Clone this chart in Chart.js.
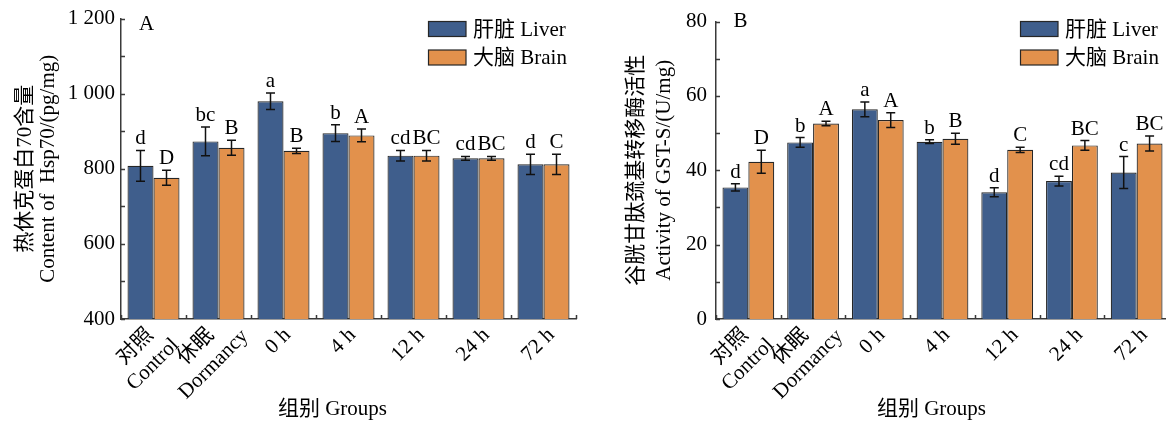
<!DOCTYPE html>
<html>
<head>
<meta charset="utf-8">
<script src="https://cdn.jsdelivr.net/npm/chart.js@4/dist/chart.umd.min.js"></script>
<style>
html,body{margin:0;padding:0;background:#fff;overflow:hidden;width:1166px;height:423px;}
#wrapA{position:absolute;left:0;top:0;width:600px;height:423px;}
#wrapB{position:absolute;left:600px;top:0;width:600px;height:423px;}
</style>
</head>
<body>
<div id="wrapA"><canvas id="cA" width="600" height="423"></canvas></div>
<div id="wrapB"><canvas id="cB" width="600" height="423"></canvas></div>
<script>
// ---- data ----
const groups = [['对照', 'Control'], ['休眠', 'Dormancy'], '0 h', '4 h', '12 h', '24 h', '72 h'];
const seriesNames = ['肝脏 Liver', '大脑 Brain'];

const hspLiver    = [808, 873, 980, 895, 835, 828, 812];
const hspLiverErr = [41, 38, 22, 22, 14, 5, 27];
const hspLiverSig = ['d', 'bc', 'a', 'b', 'cd', 'cd', 'd'];
const hspBrain    = [776, 856, 848, 889, 835, 828, 812];
const hspBrainErr = [20, 20, 7, 17, 14, 5, 27];
const hspBrainSig = ['D', 'B', 'B', 'A', 'BC', 'BC', 'C'];

const gstLiver    = [35.4, 47.5, 56.4, 47.7, 34.1, 37.1, 39.4];
const gstLiverErr = [1.0, 1.3, 2.0, 0.5, 1.2, 1.3, 4.3];
const gstLiverSig = ['d', 'b', 'a', 'b', 'd', 'cd', 'c'];
const gstBrain    = [42.3, 52.6, 53.5, 48.5, 45.5, 46.7, 47.2];
const gstBrainErr = [3.1, 0.6, 2.0, 1.5, 0.7, 1.3, 2.0];
const gstBrainSig = ['D', 'A', 'A', 'B', 'C', 'BC', 'BC'];

const hspTitle = ['热休克蛋白70含量', 'Content of  Hsp70/(pg/mg)'];
const gstTitle = ['谷胱甘肽巯基转移酶活性', 'Activity of GST-S/(U/mg)'];
const xTitle = '组别 Groups';

// ---- style ----
const FONT = "'Liberation Serif', 'Noto Sans CJK SC', serif";
const BLUE = '#3f5e8c';
const ORANGE = '#e2914c';
const EDGE = '#262626';
const AXIS = '#3a3a3a';

const decor = {
  id: 'decor',
  afterDatasetsDraw(chart, args, o) {
    const ctx = chart.ctx, ys = chart.scales.y;
    ctx.save();
    chart.data.datasets.forEach((ds, di) => {
      const meta = chart.getDatasetMeta(di);
      meta.data.forEach((bar, i) => {
        const v = ds.data[i], e = ds.errors[i];
        const yt = ys.getPixelForValue(v + e), yb = ys.getPixelForValue(v - e);
        const cx = bar.x;
        ctx.strokeStyle = '#111';
        ctx.lineWidth = 1.5;
        ctx.beginPath();
        ctx.moveTo(cx, yt); ctx.lineTo(cx, yb);
        ctx.moveTo(cx - 4.5, yt); ctx.lineTo(cx + 4.5, yt);
        ctx.moveTo(cx - 4.5, yb); ctx.lineTo(cx + 4.5, yb);
        ctx.stroke();
        ctx.fillStyle = '#000';
        ctx.font = '21px ' + FONT;
        ctx.textAlign = 'center';
        ctx.textBaseline = 'alphabetic';
        ctx.fillText(ds.sig[i], cx, yt - 6);
      });
    });
    ctx.restore();
  },
  afterDraw(chart, args, o) {
    const ctx = chart.ctx, xs = chart.scales.x, ys = chart.scales.y, ca = chart.chartArea;
    ctx.save();
    ctx.strokeStyle = AXIS;
    ctx.lineWidth = 1.5;
    ctx.beginPath();
    // inward y ticks (major + minor)
    for (let v = ys.min; v <= ys.max + 1e-9; v += o.minorStep) {
      const py = Math.round(ys.getPixelForValue(v)) + 0.5;
      ctx.moveTo(ca.left, py); ctx.lineTo(ca.left + 4, py);
    }
    // inward x ticks at group boundaries
    const labels = chart.data.labels;
    const n = labels.length;
    for (let i = 0; i <= n; i++) {
      const px = Math.round(xs.getPixelForValue(i - 0.5)) + 0.5;
      ctx.moveTo(px, ca.bottom); ctx.lineTo(px, ca.bottom - 4);
    }
    ctx.stroke();

    ctx.fillStyle = '#000';
    ctx.font = '21px ' + FONT;

    // rotated category labels: block of centred lines, bbox top-centred under the tick
    const c = Math.SQRT1_2, lh = 25, gh = 15;
    labels.forEach((lab, i) => {
      const lines = Array.isArray(lab) ? lab : [lab];
      const m = lines.length;
      const ws = lines.map(t => ctx.measureText(t).width);
      let minX = Infinity, maxX = -Infinity, minY = Infinity;
      lines.forEach((t, k) => {
        const yk = (k - (m - 1) / 2) * lh;
        [[-ws[k] / 2, yk - gh / 2], [ws[k] / 2, yk - gh / 2], [-ws[k] / 2, yk + gh / 2], [ws[k] / 2, yk + gh / 2]]
          .forEach(([lx, ly]) => {
            const gx = c * lx + c * ly, gy = -c * lx + c * ly;
            minX = Math.min(minX, gx); maxX = Math.max(maxX, gx); minY = Math.min(minY, gy);
          });
      });
      const cx = xs.getPixelForValue(i) + o.lblDx - (minX + maxX) / 2;
      const cy = ca.bottom + o.lblTop - minY;
      ctx.save();
      ctx.translate(cx, cy);
      ctx.rotate(-Math.PI / 4);
      ctx.textAlign = 'center';
      ctx.textBaseline = 'middle';
      lines.forEach((t, k) => ctx.fillText(t, 0, (k - (m - 1) / 2) * lh + 1));
      ctx.restore();
    });

    // x-axis title
    ctx.textAlign = 'center';
    ctx.textBaseline = 'middle';
    ctx.fillText(o.xTitle, (ca.left + ca.right) / 2 + o.xTitleDx, 409);

    // panel letter
    ctx.textBaseline = 'alphabetic';
    ctx.fillText(o.panel, ca.left + o.panelDx, o.panelY);

    // legend
    chart.data.datasets.forEach((ds, di) => {
      const cy = o.legendY[di];
      ctx.fillStyle = ds.backgroundColor;
      ctx.fillRect(o.legendX, cy - 7.5, 38, 15);
      ctx.strokeStyle = EDGE;
      ctx.lineWidth = 1.2;
      ctx.strokeRect(o.legendX + 0.5, cy - 7.5, 37.5, 15);
      ctx.fillStyle = '#000';
      ctx.textAlign = 'left';
      ctx.textBaseline = 'middle';
      ctx.fillText(ds.label, o.legendX + 45, cy + 1);
    });
    ctx.restore();
  }
};

function makeChart(id, cfg) {
  const datasets = [
    { label: seriesNames[0], data: cfg.liver, errors: cfg.liverErr, sig: cfg.liverSig,
      backgroundColor: BLUE, borderColor: EDGE, borderWidth: 1.2 },
    { label: seriesNames[1], data: cfg.brain, errors: cfg.brainErr, sig: cfg.brainSig,
      backgroundColor: ORANGE, borderColor: EDGE, borderWidth: 1.2 }
  ];
  return new Chart(document.getElementById(id), {
    type: 'bar',
    data: { labels: groups, datasets },
    plugins: [decor],
    options: {
      responsive: false,
      animation: false,
      devicePixelRatio: 1,
      layout: { padding: { top: 16, right: cfg.padRight, bottom: 0, left: 0 } },
      datasets: { bar: { categoryPercentage: 0.8, barPercentage: 1.0 } },
      plugins: {
        legend: { display: false },
        tooltip: { enabled: false },
        decor: { minorStep: cfg.minorStep, panel: cfg.panel, panelDx: cfg.panelDx, panelY: cfg.panelY,
                 legendX: cfg.legendX, legendY: [29, 57.5], lblDx: -6, lblTop: 7,
                 xTitle: xTitle, xTitleDx: cfg.xTitleDx }
      },
      scales: {
        x: {
          grid: { display: false, drawTicks: false },
          border: { display: true, color: AXIS, width: 1.5 },
          ticks: { display: false },
          afterFit(s) { s.height = 104; }
        },
        y: {
          min: cfg.min, max: cfg.max,
          grid: { display: false, drawTicks: false },
          border: { display: true, color: AXIS, width: 1.5 },
          ticks: {
            stepSize: cfg.step, color: '#000', padding: cfg.tickPad,
            font: { family: FONT, size: 21 },
            callback: (v) => String(v).replace(/\B(?=(\d{3})+(?!\d))/g, ' ')
          },
          title: { display: true, text: cfg.yTitle, color: '#000',
                   font: { family: FONT, size: 21, lineHeight: cfg.yLine + 'px' },
                   padding: { top: cfg.yTitlePad, bottom: 0 } },
          afterFit(s) { s.width = cfg.yWidth; }
        }
      }
    }
  });
}

makeChart('cA', {
  liver: hspLiver, liverErr: hspLiverErr, liverSig: hspLiverSig,
  brain: hspBrain, brainErr: hspBrainErr, brainSig: hspBrainSig,
  min: 400, max: 1200, step: 200, minorStep: 100, tickPad: 6,
  yTitle: hspTitle, yLine: 23, yTitlePad: 13.5, yWidth: 121, padRight: 24,
  panel: 'A', panelDx: 25.5, panelY: 30, legendX: 428, xTitleDx: -16
});
makeChart('cB', {
  liver: gstLiver, liverErr: gstLiverErr, liverSig: gstLiverSig,
  brain: gstBrain, brainErr: gstBrainErr, brainSig: gstBrainSig,
  min: 0, max: 80, step: 20, minorStep: 10, tickPad: 9,
  yTitle: gstTitle, yLine: 28, yTitlePad: 22, yWidth: 116, padRight: 31,
  panel: 'B', panelDx: 24.5, panelY: 27, legendX: 420, xTitleDx: -11
});
</script>
</body>
</html>
